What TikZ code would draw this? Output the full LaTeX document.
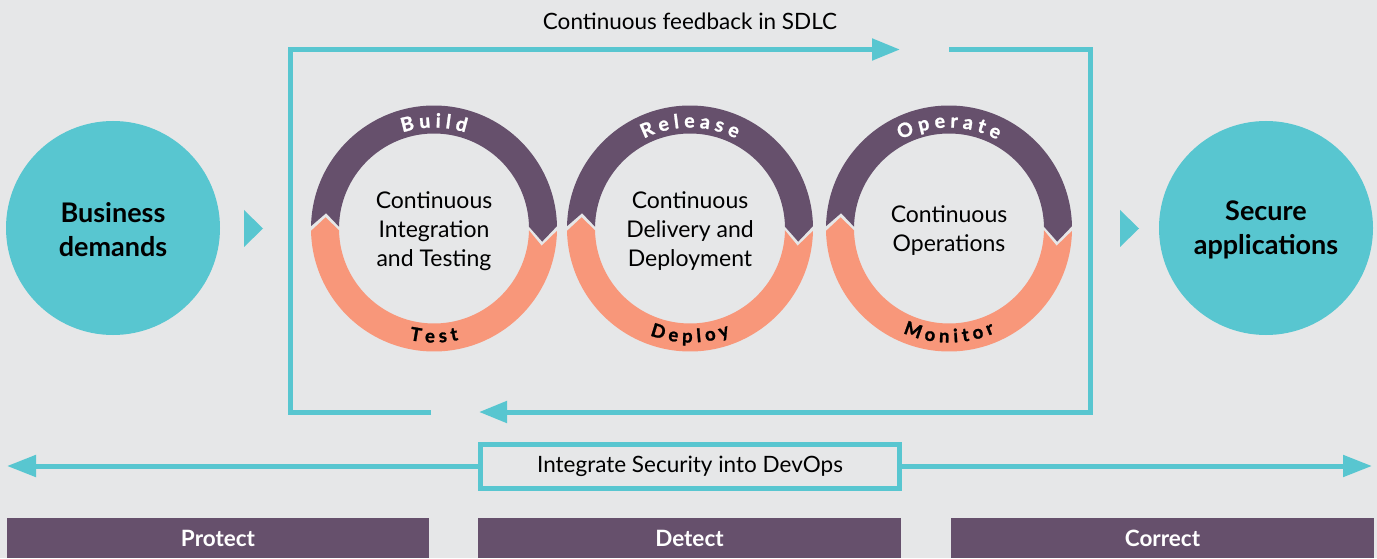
\documentclass[tikz,border=0pt]{standalone}
\usepackage{fontspec}
\setmainfont{Lato}
\usetikzlibrary{arrows.meta,decorations.text}
\definecolor{bg}{HTML}{E6E7E8}
\definecolor{pur}{HTML}{66506C}
\definecolor{ora}{HTML}{F8977A}
\definecolor{cya}{HTML}{58C6D0}
\newcommand\gp{1.1}
\newcommand\dvring[3]{%
  \begin{scope}[shift={#1}]
    \fill[pur] (180-\gp:123pt) arc[start angle=180-\gp, end angle=\gp, radius=123pt]
      -- (\gp-8:109pt) -- (\gp:95pt) arc[start angle=\gp, end angle=180-\gp, radius=95pt]
      -- (173-\gp:109pt) -- cycle;
    \fill[ora] (-\gp:123pt) arc[start angle=-\gp, end angle=-180+\gp, radius=123pt]
      -- (-187+\gp:109pt) -- (-180+\gp:95pt) arc[start angle=-180+\gp, end angle=-\gp, radius=95pt]
      -- (-8-\gp:109pt) -- cycle;
    \path[decorate, decoration={text along path, text align=center, text color=white,
      text={|\fontsize{19.5}{19.5}\selectfont\bfseries\addfontfeature{FakeBold=1.3}|#2}}]
      (175:101pt) arc[start angle=175, end angle=5, radius=101pt];
    \path[decorate, decoration={text along path, text align=center, text color=black,
      text={|\fontsize{18.5}{18.5}\selectfont\bfseries\addfontfeature{FakeBold=1.3}|#3}}]
      (185:114pt) arc[start angle=185, end angle=355, radius=114pt];
  \end{scope}}
\begin{document}
\begin{tikzpicture}[x=1pt,y=1pt,
  flow/.style={draw=cya, line width=5pt},
  tipA/.style={-{Triangle[length=28pt,width=21pt]}},
  tipB/.style={-{Triangle[length=29pt,width=21pt]}},
  bigcirc/.style={circle, fill=cya, minimum size=214pt, inner sep=0pt, align=center,
    font=\fontsize{27}{34}\selectfont\bfseries},
  innertxt/.style={align=center, font=\fontsize{23}{29}\selectfont},
  bar/.style={fill=pur, text=white, minimum height=40pt, inner sep=0pt,
    font=\fontsize{22.5}{22.5}\selectfont\bfseries},
  ]
  \fill[bg] (0,0) rectangle (1377,558);
  \useasboundingbox (0,0) rectangle (1377,558);

  % title
  \node[font=\fontsize{22.5}{22.5}\selectfont] (ttl) at (690,537) {Continuous feedback in SDLC};

  % feedback loop
  \coordinate (fa1) at (431,146);
  \coordinate (fa2) at (290.5,146);
  \coordinate (fa3) at (290.5,508.5);
  \coordinate (fa4) at (900,508.5);
  \coordinate (fb1) at (949,508.5);
  \coordinate (fb2) at (1090.5,508.5);
  \coordinate (fb3) at (1090.5,146);
  \coordinate (fb4) at (479,146);
  \draw[flow,tipA] (fa1) -- (fa2) -- (fa3) -- (fa4);
  \draw[flow,tipA] (fb1) -- (fb2) -- (fb3) -- (fb4);

  % circles
  \node[bigcirc] (bd) at (113,330) {};
  \node[bigcirc] (sa) at (1266,330) {};
  \node[font=\fontsize{27}{34}\selectfont\bfseries, align=center] (bdt) at (113,328.5) {Business\\demands};
  \node[font=\fontsize{27}{34}\selectfont\bfseries, align=center] (sat) at (1266,328.5) {Secure\\applications};
  \fill[cya] (244,348) -- (244,311) -- (263,329.5) -- cycle;
  \fill[cya] (1120,348) -- (1120,311) -- (1139,329.5) -- cycle;

  % rings
  \dvring{(434,329.5)}{B u i l d}{T e s t}
  \dvring{(690,329.5)}{R e l e a s e}{D e p l o y}
  \dvring{(949,329.5)}{O p e r a t e}{M o n i t o r}
  \node[innertxt] (ci) at (434,326.5) {Continuous\\Integration\\and Testing};
  \node[innertxt] (cd) at (690,326.5) {Continuous\\Delivery and\\Deployment};
  \node[innertxt] (co) at (949,327) {Continuous\\Operations};

  % integrate security
  \node[draw=cya, line width=5pt, fill=bg, minimum width=419pt, minimum height=44pt,
    inner sep=0pt, font=\fontsize{22.5}{22.5}\selectfont] (isec) at (690,92) {Integrate Security into DevOps};
  \coordinate (dl) at (7,92);
  \coordinate (dr) at (1372,92);
  \draw[flow,tipB] (isec.west) -- (dl);
  \draw[flow,tipB] (isec.east) -- (dr);

  % bars
  \node[bar, minimum width=422pt] (pro) at (218,20) {Protect};
  \node[bar, minimum width=423pt] (det) at (689.5,20) {Detect};
  \node[bar, minimum width=423pt] (cor) at (1162.5,20) {Correct};
\end{tikzpicture}
\end{document}
